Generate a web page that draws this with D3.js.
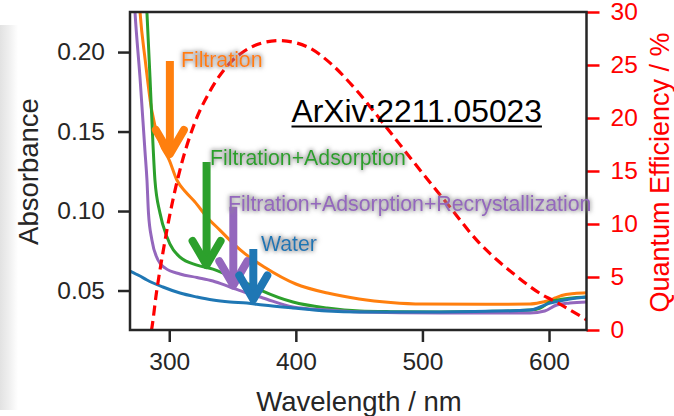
<!DOCTYPE html>
<html><head><meta charset="utf-8">
<script src="https://cdn.jsdelivr.net/npm/d3@7"></script>
<style>
html,body{margin:0;padding:0;background:#fff;}
svg{display:block;font-family:"Liberation Sans",Arial,sans-serif;}
</style></head>
<body>
<svg id="chart" width="674" height="416"></svg>
<script>
// ---------- data ----------
const filtrationNm  = [270, 275, 277, 281, 286, 293, 300, 306, 313, 320, 330, 340, 350, 360, 375, 400, 425, 450, 475, 500, 550, 585, 595, 600, 605, 610, 620, 630];
const filtrationAbs = [0.33, 0.25, 0.2245, 0.195, 0.164, 0.1427, 0.132, 0.1195, 0.112, 0.106, 0.096, 0.088, 0.080, 0.073, 0.0648, 0.0541, 0.0484, 0.0447, 0.0425, 0.0415, 0.0413, 0.0415, 0.0428, 0.0437, 0.0453, 0.0469, 0.0481, 0.0486];

const adsorptionNm  = [278, 282.4, 284.8, 287.1, 288.7, 292.7, 298.2, 308.5, 321.9, 334.5, 348, 361.4, 373, 397.7, 424.6, 450.6, 475, 513.8, 550, 585, 593, 600.8, 610, 620, 630];
const adsorptionAbs = [0.30, 0.2245, 0.184, 0.1428, 0.1195, 0.0987, 0.0836, 0.071, 0.066, 0.0635, 0.059, 0.0545, 0.050, 0.0428, 0.039, 0.0371, 0.0367, 0.0365, 0.0368, 0.0377, 0.039, 0.0428, 0.0445, 0.0455, 0.0459];

const recrystNm  = [270, 273, 276.9, 280.8, 282.4, 283.6, 286.3, 291.1, 296.6, 308.5, 321.9, 334.5, 348, 361.4, 374, 397.7, 424.6, 450.6, 513.8, 585, 596.6, 606.1, 616.4, 630];
const recrystAbs = [0.27, 0.2245, 0.184, 0.138, 0.1195, 0.0987, 0.0818, 0.0692, 0.0642, 0.0604, 0.0582, 0.056, 0.0522, 0.0484, 0.0453, 0.0396, 0.0377, 0.0365, 0.0358, 0.0358, 0.0371, 0.0409, 0.0421, 0.0428];

const waterNm  = [269, 276.9, 282.4, 295, 308.5, 321.9, 334.5, 348, 361.4, 374, 397.7, 424.6, 450.6, 513.8, 585, 600.8, 616.4, 630];
const waterAbs = [0.0623, 0.0591, 0.0566, 0.0522, 0.0484, 0.0459, 0.044, 0.0428, 0.0421, 0.0409, 0.039, 0.0371, 0.0365, 0.0365, 0.0377, 0.0421, 0.0447, 0.0459];

const qeNm = [283, 286, 290, 295, 300, 305, 310, 320, 332, 348, 358, 374, 387, 400, 411, 427, 448, 469, 492, 519, 545, 559, 571, 595, 603, 630];
const qeVal = [-1.5, 0, 3.6, 7.3, 10.6, 13.4, 15.8, 19.5, 22.5, 25.2, 26.2, 27.1, 27.3, 27.1, 26.6, 25.2, 22.6, 19.5, 16.0, 12.0, 8.2, 6.6, 5.4, 3.3, 2.8, 0.94];

const xTicks = [300, 400, 500, 600];
const yTicks = [0.05, 0.10, 0.15, 0.20];
const y2Ticks = [0, 5, 10, 15, 20, 25, 30];

const seriesNames  = ["Filtration", "Filtration+Adsorption", "Filtration+Adsorption+Recrystallization", "Water"];
const seriesColors = ["#ff7f0e", "#2ca02c", "#9467bd", "#1f77b4"];
// annotation label anchor (nm, absorbance) and arrow (nm, top abs, tip abs)
const labelNm   = [309.2, 332.2, 346.4, 372.4];
const labelAbs  = [0.1906, 0.1289, 0.1002, 0.0748];
const arrowNm   = [300.5, 329.5, 350.6, 366.4];
const arrowTop  = [0.1944, 0.1308, 0.1027, 0.0761];
const arrowTip  = [0.1340, 0.0642, 0.0514, 0.0425];

// ---------- layout ----------
const svg = d3.select("#chart");
const L = 130, R = 586.5, T = 12, B = 330;
const x = d3.scaleLinear().domain([269, 629.6]).range([L, R]);
const y = d3.scaleLinear().domain([0.02516, 0.2252]).range([B, T]);
const y2 = d3.scaleLinear().domain([0, 30]).range([B, T]);
const dark = "#262626";

const defs = svg.append("defs");
const grad = defs.append("linearGradient").attr("id","lg").attr("x1","0").attr("x2","1");
grad.append("stop").attr("offset","0").attr("stop-color","#e2e2e2");
grad.append("stop").attr("offset","0.5").attr("stop-color","#efefef");
grad.append("stop").attr("offset","1").attr("stop-color","#ffffff");
defs.append("clipPath").attr("id","clip").append("rect")
  .attr("x", L).attr("y", T).attr("width", R-L).attr("height", B-T);
const f = defs.append("filter").attr("id","glow").attr("x","-10%").attr("y","-40%").attr("width","120%").attr("height","180%");
f.append("feMorphology").attr("in","SourceAlpha").attr("operator","dilate").attr("radius",1.0).attr("result","d");
f.append("feGaussianBlur").attr("in","d").attr("stdDeviation",2.0).attr("result","b");
f.append("feFlood").attr("flood-color","#8c8c8c").attr("flood-opacity",0.7).attr("result","c");
f.append("feComposite").attr("in","c").attr("in2","b").attr("operator","in").attr("result","s");
const fm = f.append("feMerge");
fm.append("feMergeNode").attr("in","s");
fm.append("feMergeNode").attr("in","SourceGraphic");

// screenshot shadow on the left
svg.append("rect").attr("x",0).attr("y",25).attr("width",18).attr("height",385).attr("fill","url(#lg)");

// ---------- curves ----------
const g = svg.append("g").attr("clip-path","url(#clip)");
const line = d3.line().x(d => x(d[0])).y(d => y(d[1])).curve(d3.curveMonotoneX);
const sets = [
  [filtrationNm, filtrationAbs],
  [adsorptionNm, adsorptionAbs],
  [recrystNm, recrystAbs],
  [waterNm, waterAbs]
];
sets.forEach((s, i) => {
  const pts = s[0].map((v, k) => [v, s[1][k]]);
  g.append("path").attr("d", line(pts)).attr("fill","none")
    .attr("stroke", seriesColors[i]).attr("stroke-width", 3).attr("stroke-linejoin","round");
});
const line2 = d3.line().x(d => x(d[0])).y(d => y2(d[1])).curve(d3.curveMonotoneX);
g.append("path").attr("d", line2(qeNm.map((v,k)=>[v, qeVal[k]]))).attr("fill","none")
  .attr("stroke","#ff0000").attr("stroke-width",3.2).attr("stroke-dasharray","10,5.5");

// ---------- axes ----------
const axB = svg.append("g").attr("transform",`translate(0,${B})`)
  .call(d3.axisBottom(x).tickValues(xTicks).tickSize(12).tickPadding(11).tickFormat(d3.format("d")));
const axL = svg.append("g").attr("transform",`translate(${L},0)`)
  .call(d3.axisLeft(y).tickValues(yTicks).tickSize(12).tickPadding(13).tickFormat(d3.format(".2f")));
const axR = svg.append("g").attr("transform",`translate(${R},0)`)
  .call(d3.axisRight(y2).tickValues(y2Ticks).tickSize(13).tickPadding(11).tickFormat(d3.format("d")));
[axB, axL].forEach(a => {
  a.select(".domain").remove();
  a.selectAll(".tick line").attr("stroke", dark).attr("stroke-width", 2.5);
  a.selectAll(".tick text").attr("fill", dark).attr("font-size", 24.5).attr("font-family","Liberation Sans, Arial, sans-serif");
});
axR.select(".domain").remove();
axR.selectAll(".tick line").attr("stroke", "#ff0000").attr("stroke-width", 2.5);
axR.selectAll(".tick text").attr("fill", "#ff0000").attr("font-size", 24.5).attr("font-family","Liberation Sans, Arial, sans-serif");

// frame
svg.append("rect").attr("x", L).attr("y", T).attr("width", R-L).attr("height", B-T)
  .attr("fill","none").attr("stroke", dark).attr("stroke-width", 2.5);

// axis titles
svg.append("text").attr("x", 359).attr("y", 411).attr("text-anchor","middle")
  .attr("font-size", 27.5).attr("fill", dark).text("Wavelength / nm");
svg.append("text").attr("transform","translate(38,171.5) rotate(-90)").attr("text-anchor","middle")
  .attr("font-size", 27.5).attr("fill", dark).text("Absorbance");
svg.append("text").attr("transform","translate(668.5,172.5) rotate(-90)").attr("text-anchor","middle")
  .attr("font-size", 27).attr("fill", "#ff0000").text("Quantum Efficiency / %");

// ---------- annotations ----------
seriesNames.forEach((name, i) => {
  const ax = x(arrowNm[i]), y0 = y(arrowTop[i]), y1 = y(arrowTip[i]);
  svg.append("line").attr("x1", ax).attr("x2", ax).attr("y1", y0).attr("y2", y1 - 4)
    .attr("stroke", seriesColors[i]).attr("stroke-width", 8);
  svg.append("path")
    .attr("d", `M${ax-14},${y1-27}L${ax},${y1-3}L${ax+14},${y1-27}`)
    .attr("fill","none").attr("stroke", seriesColors[i]).attr("stroke-width", 8)
    .attr("stroke-linecap","round").attr("stroke-linejoin","round");
  svg.append("text").attr("x", x(labelNm[i])).attr("y", y(labelAbs[i]))
    .attr("font-size", 21.3).attr("fill", seriesColors[i]).attr("filter","url(#glow)").text(name);
});

const arx = svg.append("text").attr("x", 291.5).attr("y", 121.5).attr("font-size", 31.8)
  .attr("fill", "#000").text("ArXiv:2211.05023");
const w = arx.node().getComputedTextLength();
svg.append("line").attr("x1", 291.5).attr("x2", 291.5 + w).attr("y1", 126.5).attr("y2", 126.5)
  .attr("stroke","#000").attr("stroke-width", 2);
</script>
</body></html>
